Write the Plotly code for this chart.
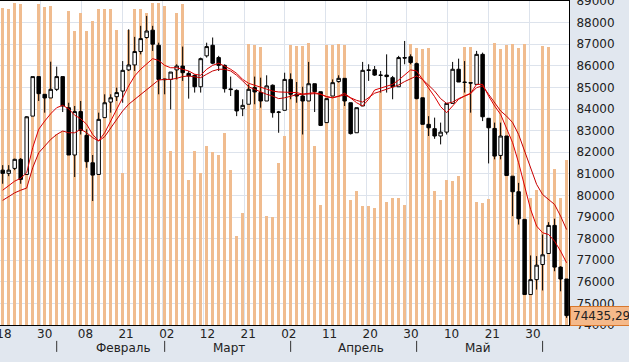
import plotly.graph_objects as go

# ---------------- data ----------------
open_ = [81170, 81020, 81250, 81670, 80970, 83670, 85500, 84680, 84510, 84910,
         85500, 84060, 81870, 83880, 82780, 81510, 80970, 83600, 84320, 84570,
         84830, 85810, 86040, 86660, 87310, 87650, 86950, 85390, 85370, 85810,
         85990, 85650, 85560, 85030, 86460, 86950, 86380, 86020, 84930, 84860,
         84010, 84220, 84990, 84760, 84370, 85100, 83860, 83940, 85370, 84680,
         84600, 84370, 85170, 84800, 83370, 84600, 85270, 85420, 84290, 82900,
         84140, 85810, 85820, 85570, 85570, 85450, 85030, 86380, 86420, 86100,
         84520, 83290, 83090, 82750, 82930, 84260, 85840, 85250, 85220, 85140,
         86530, 83570, 83100, 81850, 82750, 80890, 80170, 78890, 75410, 76100,
         76800, 77310, 78610, 76680, 76130]
high = [81400, 81400, 81700, 81730, 83670, 85500, 85500, 84680, 86190, 85960,
        85500, 84290, 84140, 84370, 83060, 81870, 83830, 84680, 84680, 84990,
        86220, 87690, 87340, 87850, 88310, 87850, 87070, 85400, 85710, 86070,
        86890, 85760, 85600, 86380, 87070, 87310, 86460, 86070, 85500, 84910,
        84450, 85140, 85500, 85450, 85560, 85140, 83910, 85680, 85650, 85250,
        85030, 86180, 85170, 84800, 84480, 85370, 85560, 85420, 84290, 84060,
        86180, 86070, 85990, 85760, 86530, 85530, 86460, 87150, 86530, 86150,
        84520, 83670, 83600, 83370, 84260, 86180, 86330, 86220, 85250, 86690,
        86610, 83570, 83370, 83370, 82750, 80890, 80580, 78890, 77220, 77190,
        78190, 78760, 78920, 76720, 76130]
low = [80540, 80890, 81170, 80540, 80970, 83670, 84370, 83830, 84510, 84830,
       83860, 81870, 80850, 82820, 81280, 79740, 80970, 83600, 83830, 84370,
       84290, 85760, 85760, 86530, 87260, 86690, 84680, 84680, 83980, 85370,
       85300, 84480, 84760, 84760, 86380, 86070, 85760, 84760, 84600, 83670,
       83670, 84220, 84220, 84060, 84370, 83600, 82900, 83940, 84450, 84290,
       82820, 84370, 83860, 83210, 83370, 84600, 85220, 84140, 82820, 82900,
       84140, 85300, 85530, 84760, 84760, 84450, 85030, 86070, 86070, 84450,
       83290, 82750, 82620, 82360, 82820, 84260, 85250, 84760, 83830, 85140,
       83440, 81480, 81670, 81670, 80920, 79040, 78650, 75410, 75410, 75640,
       75600, 77310, 76490, 75560, 74330]
close = [81020, 81170, 81670, 80740, 83640, 85500, 84710, 84510, 84910, 85500,
         84140, 81870, 83880, 83010, 81560, 80940, 83520, 84290, 84520, 84760,
         85790, 86040, 86660, 87260, 87610, 87000, 85370, 85360, 85710, 85990,
         85680, 85530, 85030, 86330, 86890, 86120, 86020, 84940, 84900, 83910,
         84170, 84910, 84790, 84370, 85070, 83830, 83850, 85370, 84680, 84600,
         84370, 85170, 84800, 83240, 84480, 85220, 85420, 84370, 82860, 84060,
         85790, 85790, 85570, 85560, 85500, 85030, 86380, 86360, 86150, 84480,
         83290, 83130, 82750, 82930, 84260, 85840, 85250, 85230, 85200, 86530,
         83640, 83130, 81820, 82750, 80920, 80170, 78920, 75410, 76100, 76770,
         77250, 78610, 76680, 76130, 74435.29]
volume = [97.9, 97.6, 99.3, 99.0, 54, 70, 99, 98, 98.6, 59,
          60, 96.9, 90.7, 96.2, 90.7, 93.8, 97.4, 97.6, 97.6, 91.2,
          46.9, 91.2, 97.6, 97.6, 96.4, 99.3, 99.5, 98.6, 53.6, 96.4,
          99, 44.8, 53.6, 46.9, 55.1, 53.3, 52.6, 59.3, 47.9, 27.5,
          34.5, 86.6, 86.3, 85.9, 33.5, 33.3, 50, 58.2, 86.3, 86.1,
          86.1, 86.9, 55.1, 37.1, 86.3, 86.3, 86.6, 86.3, 38.6, 41.4,
          36.8, 36.8, 36.1, 72, 38.1, 39.2, 39.2, 37.1, 86.6, 85.6,
          85.2, 85.6, 41.4, 38.6, 44.8, 44.3, 46.1, 85.9, 85.9, 38.1,
          37.6, 38.8, 87.1, 85.2, 86.3, 86.6, 85.6, 86.6, 39.2, 41.7,
          86.1, 85.9, 48.1, 39.2, 51]
ma_fast = [80240, 80430, 80660, 80790, 81050, 82210, 83060, 83440, 83780, 84060,
           84170, 84010, 83710, 83550, 83290, 82820, 82520, 82900, 83440, 83910,
           84520, 85070, 85530, 85840, 86070, 86330, 86250, 86020, 85910, 85910,
           85840, 85760, 85610, 85560, 85840, 86020, 86120, 85990, 85840, 85650,
           85370, 85190, 85100, 85020, 84940, 84830, 84790, 84790, 84790, 84760,
           84690, 84730, 84760, 84680, 84570, 84520, 84600, 84730, 84520, 84290,
           84140, 84450, 84880, 84960, 85030, 85140, 85340, 85560, 85810, 85760,
           85370, 84940, 84570, 84110, 83830, 84140, 84450, 84600, 84730, 85140,
           85140, 84600, 84140, 83750, 83130, 82440, 81510, 80430, 79350, 78580,
           78270, 78190, 77880, 77420, 76880]
ma_slow = [79770, 79940, 80120, 80240, 80340, 81280, 81970, 82280, 82590, 82820,
           82980, 82900, 82900, 83060, 82900, 82670, 82520, 82720, 83130, 83520,
           83910, 84220, 84450, 84680, 84910, 85140, 85340, 85370, 85370, 85420,
           85500, 85530, 85500, 85450, 85610, 85760, 85840, 85840, 85760, 85560,
           85300, 85030, 84910, 84790, 84680, 84600, 84480, 84520, 84600, 84660,
           84680, 84710, 84710, 84690, 84570, 84520, 84570, 84650, 84520, 84400,
           84320, 84520, 84730, 84820, 84910, 84990, 85110, 85270, 85400, 85530,
           85370, 85100, 84830, 84480, 84260, 84320, 84480, 84600, 84710, 84990,
           85070, 84680, 84290, 83910, 83670, 83370, 82820, 82050, 81280, 80510,
           80040, 79810, 79580, 79040, 78420]

tick_labels = ["18", "30", "08", "21", "02", "12", "21", "02", "11", "20", "30", "10", "21", "30"]
month_names = ["Февраль", "Март", "Апрель", "Май"]
month_start_idx = [9, 27, 48, 69, 90]
last_price_text = "74435,29"

# ---------------- layout helpers ----------------
x = list(range(len(close)))
tick_pos = [(40.7 * k - 2.7) / 6.0 for k in range(len(tick_labels))]
month_label_pos = [20.2, 37.7, 59.7, 79.2]

GRID = "#dde3ec"
BG = "#e1e7ef"
TXT = "#222222"

fig = go.Figure()
fig.add_trace(go.Bar(x=x, y=volume, width=0.5, marker=dict(color="#f0bc8f", line=dict(width=0)),
                     yaxis="y", hoverinfo="skip"))
fig.add_trace(go.Candlestick(
    x=x, open=open_, high=high, low=low, close=close, yaxis="y2",
    increasing=dict(line=dict(color="black", width=1), fillcolor="white"),
    decreasing=dict(line=dict(color="black", width=1), fillcolor="black"),
    whiskerwidth=0))
fig.add_trace(go.Scatter(x=x, y=ma_slow, yaxis="y2", mode="lines",
                         line=dict(color="#c80000", width=1)))
fig.add_trace(go.Scatter(x=x, y=ma_fast, yaxis="y2", mode="lines",
                         line=dict(color="#dd0000", width=1)))

annotations = []
for name, pos in zip(month_names, month_label_pos):
    annotations.append(dict(x=pos, xref="x", y=-0.072, yref="paper", text=name, showarrow=False,
                            xanchor="center", yanchor="middle", font=dict(size=12, color=TXT)))
annotations.append(dict(x=1, xref="paper", y=close[-1], yref="y2", text=last_price_text,
                        showarrow=False, xanchor="left", yanchor="middle", xshift=1,
                        bgcolor="#f5b98a", bordercolor="#d8782e", borderwidth=1, borderpad=2,
                        font=dict(size=12, color=TXT)))

shapes = []
for m in month_start_idx:
    shapes.append(dict(type="line", xref="x", yref="paper", x0=m, x1=m, y0=-0.049, y1=-0.083,
                       line=dict(color="#333333", width=1)))

fig.update_layout(
    width=629, height=362,
    margin=dict(l=0, r=60, t=1, b=37, autoexpand=False),
    paper_bgcolor=BG, plot_bgcolor="white",
    showlegend=False, bargap=0, boxgap=0.18,
    font=dict(family="DejaVu Sans", size=12, color=TXT),
    xaxis=dict(range=[-0.45, 94.4], tickmode="array", tickvals=tick_pos, ticktext=tick_labels,
               showgrid=True, gridcolor=GRID, gridwidth=1, ticks="", showline=True,
               linecolor="black", linewidth=1, mirror=True, zeroline=False, automargin=False,
               rangeslider=dict(visible=False), ticklabelshift=4, ticklabelstandoff=-2,
               ticklabeloverflow="allow"),
    yaxis=dict(range=[0, 100], visible=False, showgrid=False, zeroline=False, automargin=False),
    yaxis2=dict(overlaying="y", side="right", range=[74000, 89000], tick0=74000, dtick=1000,
                tickformat="d", showgrid=True, gridcolor=GRID, gridwidth=1, showline=True,
                linecolor="black", linewidth=1, mirror=True, ticks="", zeroline=False,
                automargin=False, ticklabelstandoff=4, ticklabeloverflow="allow"),
    annotations=annotations, shapes=shapes,
)

fig.write_html("out.html", config={"displayModeBar": False},
               post_script="document.body.style.margin='0';document.body.style.overflow='hidden';")
